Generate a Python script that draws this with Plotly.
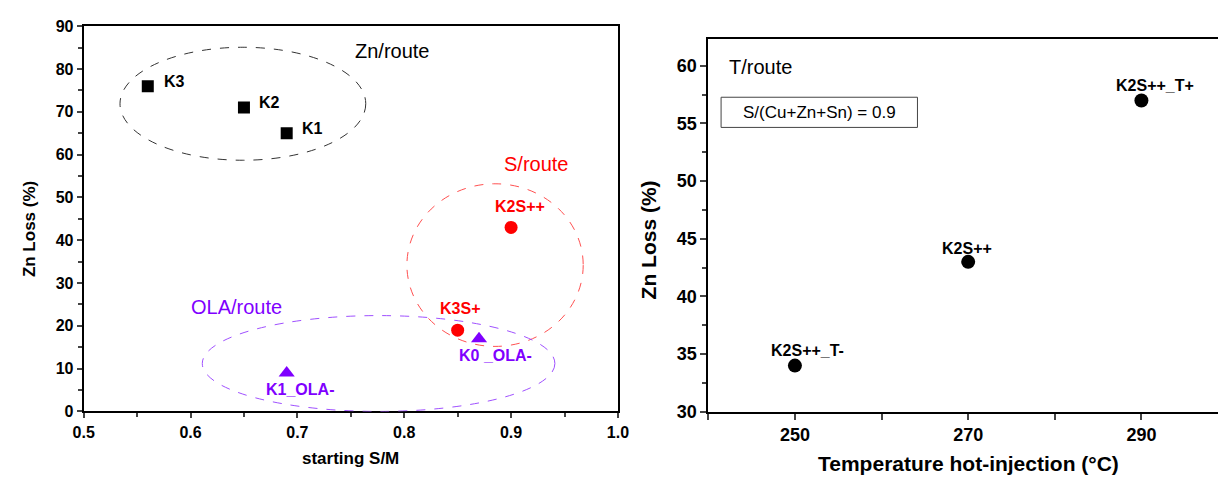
import plotly.graph_objects as go

# ---- Left panel data ----
zn_x = [0.56, 0.65, 0.69]
zn_y = [76, 71, 65]
zn_lbl = ["K3", "K2", "K1"]

s_x = [0.90, 0.85]
s_y = [43, 19]
s_lbl = ["K2S++", "K3S+"]

ola_x = [0.69, 0.87]
ola_y = [9, 17]
ola_lbl = ["K1_OLA-", "K0 _OLA-"]

# ---- Right panel data ----
t_x = [250, 270, 290]
t_y = [34, 43, 57]
t_lbl = ["K2S++_T-", "K2S++", "K2S++_T+"]

BLACK = "#000000"
RED = "#FF0000"
PURPLE = "#7F00FF"
FONT = "Arial, Liberation Sans, sans-serif"

fig = go.Figure()

fig.add_trace(go.Scatter(x=zn_x, y=zn_y, mode="markers",
                         marker=dict(symbol="square", size=12, color=BLACK),
                         xaxis="x", yaxis="y", showlegend=False))
fig.add_trace(go.Scatter(x=s_x, y=s_y, mode="markers",
                         marker=dict(symbol="circle", size=13, color=RED),
                         xaxis="x", yaxis="y", showlegend=False))
fig.add_trace(go.Scatter(x=ola_x, y=ola_y, mode="markers",
                         marker=dict(symbol="triangle-up", size=14, color=PURPLE),
                         xaxis="x", yaxis="y", showlegend=False))
fig.add_trace(go.Scatter(x=t_x, y=t_y, mode="markers",
                         marker=dict(symbol="circle", size=14, color=BLACK),
                         xaxis="x2", yaxis="y2", showlegend=False))

# dashed group ellipses (center x, center y, radius x, radius y, colour)
ellipses = [
    (0.649, 71.9, 0.115, 13.2, "#333333"),
    (0.885, 34.2, 0.0825, 19.0, "#FF5050"),
    (0.776, 11.2, 0.165, 11.2, "#9F50FF"),
]
for cx, cy, rx, ry, col in ellipses:
    fig.add_shape(type="circle", xref="x", yref="y",
                  x0=cx - rx, x1=cx + rx, y0=cy - ry, y1=cy + ry,
                  line=dict(color=col, width=1, dash="dash"))

# box around the composition note (paper coords)
fig.add_shape(type="rect", xref="paper", yref="paper",
              x0=0.5883, x1=0.751, y0=0.7443, y1=0.8089,
              line=dict(color="#444444", width=1), fillcolor="rgba(0,0,0,0)")

ann = []
lbl_pos_zn = [(0.573, 77, "left"), (0.6625, 72.2, "left"), (0.7025, 66.2, "left")]
for (x, y, a), t in zip(lbl_pos_zn, zn_lbl):
    ann.append(dict(x=x, y=y, text=f"<b>{t}</b>", xanchor=a, font=dict(size=16, color=BLACK)))
lbl_pos_s = [(0.908, 47.9), (0.852, 24.0)]
for (x, y), t in zip(lbl_pos_s, s_lbl):
    ann.append(dict(x=x, y=y, text=f"<b>{t}</b>", xanchor="center", font=dict(size=16, color=RED)))
lbl_pos_ola = [(0.7025, 5.1), (0.885, 13.0)]
for (x, y), t in zip(lbl_pos_ola, ola_lbl):
    ann.append(dict(x=x, y=y, text=f"<b>{t}</b>", xanchor="center", font=dict(size=16, color=PURPLE)))
ann.append(dict(x=0.789, y=84.2, text="Zn/route", xanchor="center", font=dict(size=20, color=BLACK)))
ann.append(dict(x=0.923, y=57.8, text="S/route", xanchor="center", font=dict(size=20, color=RED)))
ann.append(dict(x=0.643, y=24.4, text="OLA/route", xanchor="center", font=dict(size=20, color=PURPLE)))
for a in ann:
    a.update(xref="x", yref="y", showarrow=False, yanchor="middle")
    a["font"]["family"] = FONT

ann2 = []
lbl_pos_t = [(251.5, 35.3), (269.9, 44.2), (291.6, 58.3)]
for (x, y), t in zip(lbl_pos_t, t_lbl):
    ann2.append(dict(x=x, y=y, text=f"<b>{t}</b>", xanchor="center", yanchor="middle",
                     xref="x2", yref="y2", showarrow=False,
                     font=dict(size=16, color=BLACK, family=FONT)))
ann2.append(dict(x=0.5935, y=(485 - 61) / 485, xref="paper", yref="paper", text="T/route", showarrow=False,
                 xanchor="left", yanchor="middle", font=dict(size=20, color=BLACK, family=FONT)))
ann2.append(dict(x=0.6696, y=0.7766, xref="paper", yref="paper", text="S/(Cu+Zn+Sn) = 0.9",
                 showarrow=False, xanchor="center", yanchor="middle",
                 font=dict(size=17, color=BLACK, family=FONT)))

# axis titles
titles = [
    dict(x=346 / 1229, y=(485 - 468) / 485, text="<b>starting S/M</b>", textangle=0, font=dict(size=17)),
    dict(x=19 / 1229, y=(485 - 230) / 485, text="<b>Zn Loss (%)</b>", textangle=-90, font=dict(size=17)),
    dict(x=975 / 1229, y=(485 - 473) / 485, text="<b>Temperature hot-injection (°C)</b>", textangle=0, font=dict(size=21)),
    dict(x=649 / 1229, y=(485 - 241) / 485, text="<b>Zn Loss (%)</b>", textangle=-90, font=dict(size=21)),
]
for t in titles:
    t.update(xref="paper", yref="paper", showarrow=False, xanchor="center", yanchor="middle")
    t["font"].update(family=FONT, color=BLACK)

fig.update_layout(
    width=1229, height=485,
    margin=dict(l=0, r=0, t=0, b=0),
    paper_bgcolor="white", plot_bgcolor="white",
    annotations=ann + ann2 + titles,
    xaxis=dict(domain=[74 / 1229, 618 / 1229], range=[0.5, 1.0], tickvals=[0.5, 0.6, 0.7, 0.8, 0.9, 1.0],
               ticktext=["<b>0.5</b>", "<b>0.6</b>", "<b>0.7</b>", "<b>0.8</b>", "<b>0.9</b>", "<b>1.0</b>"],
               ticks="outside", ticklen=5, tickwidth=1.5, showline=True, linewidth=2, linecolor=BLACK,
               mirror=True,
               minor=dict(dtick=0.05, ticks="outside", ticklen=4, tickwidth=1.5),
               showgrid=False, zeroline=False, tickfont=dict(size=16, family=FONT, color=BLACK),
               anchor="y"),
    yaxis=dict(domain=[(485 - 419) / 485, (485 - 19) / 485], range=[0, 90], tickvals=list(range(0, 91, 10)),
               ticktext=[f"<b>{v}</b>" for v in range(0, 91, 10)],
               ticks="outside", ticklen=5, tickwidth=1.5, showline=True, linewidth=2, linecolor=BLACK,
               mirror=True,
               minor=dict(dtick=5, ticks="outside", ticklen=4, tickwidth=1.5),
               showgrid=False, zeroline=False, tickfont=dict(size=16, family=FONT, color=BLACK),
               anchor="x"),
    xaxis2=dict(domain=[710 / 1229, 1.0], range=[240, 298.84], tickvals=[250, 270, 290],
                ticktext=["<b>250</b>", "<b>270</b>", "<b>290</b>"],
                ticks="outside", ticklen=6, tickwidth=1.5, showline=True, linewidth=2, linecolor=BLACK,
                mirror=True,
                minor=dict(dtick=10, tick0=240, ticks="outside", ticklen=6, tickwidth=1.5),
                showgrid=False, zeroline=False, tickfont=dict(size=18, family=FONT, color=BLACK),
                anchor="y2"),
    yaxis2=dict(domain=[(485 - 419.3) / 485, (485 - 31.7) / 485], range=[30, 62.37],
                tickvals=[30, 35, 40, 45, 50, 55, 60],
                ticktext=[f"<b>{v}</b>" for v in [30, 35, 40, 45, 50, 55, 60]],
                ticks="outside", ticklen=6, tickwidth=1.5, showline=True, linewidth=2, linecolor=BLACK,
                minor=dict(dtick=2.5, ticks="outside", ticklen=4, tickwidth=1.5),
                showgrid=False, zeroline=False, tickfont=dict(size=18, family=FONT, color=BLACK),
                anchor="x2"),
)

fig.write_html("out.html")
